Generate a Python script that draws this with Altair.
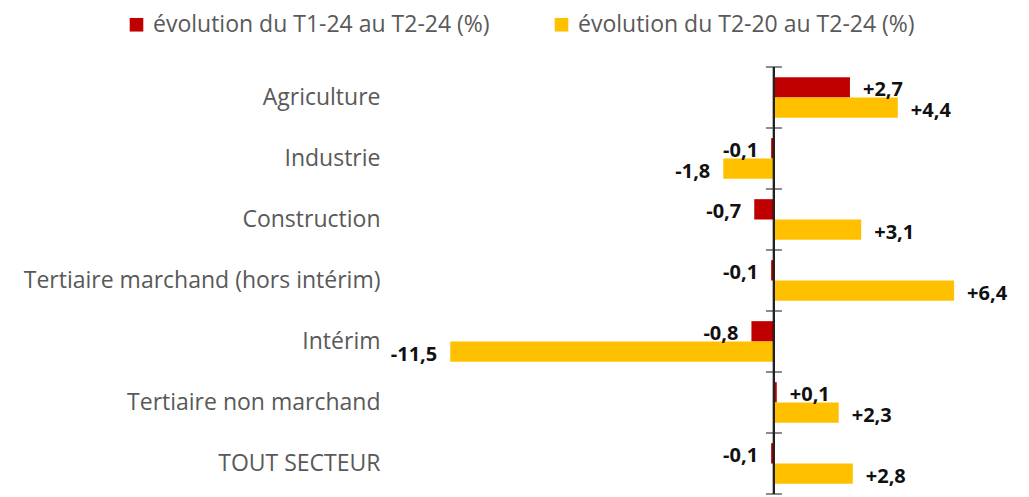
import altair as alt
import pandas as pd

categories = [
    "Agriculture",
    "Industrie",
    "Construction",
    "Tertiaire marchand (hors intérim)",
    "Intérim",
    "Tertiaire non marchand",
    "TOUT SECTEUR",
]
series_names = ["évolution du T1-24 au T2-24 (%)", "évolution du T2-20 au T2-24 (%)"]
evol_t1_24 = [2.7, -0.1, -0.7, -0.1, -0.8, 0.1, -0.1]
evol_t2_20 = [4.4, -1.8, 3.1, 6.4, -11.5, 2.3, 2.8]
colors = ["#C00000", "#FFC000"]

rows = []
for i, c in enumerate(categories):
    for s, vals in zip(series_names, [evol_t1_24, evol_t2_20]):
        v = vals[i]
        rows.append({"cat": c, "serie": s, "value": v,
                     "label": f"{v:+.1f}".replace(".", ",")})
df = pd.DataFrame(rows)
cat_df = pd.DataFrame({"cat": categories})
last_df = pd.DataFrame({"cat": categories[-1:]})

FONT = "Open Sans"
xscale = alt.Scale(domain=[-13, 7], nice=False, zero=False)
yscale = alt.Scale(domain=categories, paddingInner=0, paddingOuter=0)
yoff_scale = alt.Scale(domain=series_names, paddingInner=0, paddingOuter=0.5)

base = alt.Chart(df)

bars = base.mark_bar().encode(
    x=alt.X("value:Q", scale=xscale, axis=None),
    y=alt.Y("cat:N", scale=yscale, sort=categories,
            axis=alt.Axis(title=None, domain=False, ticks=False, labelPadding=28,
                          labelFontSize=23, labelColor="#595959", labelFont=FONT,
                          labelLimit=500)),
    yOffset=alt.YOffset("serie:N", scale=yoff_scale, sort=series_names),
    color=alt.Color("serie:N", scale=alt.Scale(domain=series_names, range=colors),
                    legend=alt.Legend(title=None, orient="none", direction="horizontal",
                                      legendX=-283, legendY=-54, symbolType="square",
                                      symbolSize=185, symbolStrokeWidth=0,
                                      labelFontSize=23, labelColor="#595959",
                                      labelFont=FONT, columnPadding=60, labelOffset=5,
                                      labelLimit=500)),
)

txt_pos = base.transform_filter("datum.value >= 0").mark_text(
    align="left", baseline="middle", dx=13, dy=3, fontSize=20, fontWeight="bold",
    font=FONT, color="#111"
).encode(
    x=alt.X("value:Q", scale=xscale),
    y=alt.Y("cat:N", scale=yscale, sort=categories),
    yOffset=alt.YOffset("serie:N", scale=yoff_scale, sort=series_names),
    text="label:N",
)
txt_neg = base.transform_filter("datum.value < 0").mark_text(
    align="right", baseline="middle", dx=-13, dy=3, fontSize=20, fontWeight="bold",
    font=FONT, color="#111"
).encode(
    x=alt.X("value:Q", scale=xscale),
    y=alt.Y("cat:N", scale=yscale, sort=categories),
    yOffset=alt.YOffset("serie:N", scale=yoff_scale, sort=series_names),
    text="label:N",
)

axis_line = alt.Chart(cat_df).mark_rule(color="#222", strokeWidth=2).encode(
    x=alt.datum(0, scale=xscale)
)
ticks = alt.Chart(cat_df).mark_tick(orient="horizontal", size=16, thickness=1.5,
                                    color="#222").encode(
    x=alt.datum(0, scale=xscale),
    y=alt.Y("cat:N", scale=yscale, sort=categories, bandPosition=0),
)
tick_end = alt.Chart(last_df).mark_tick(orient="horizontal", size=16, thickness=1.5,
                                        color="#222").encode(
    x=alt.datum(0, scale=xscale),
    y=alt.Y("cat:N", scale=yscale, sort=categories, bandPosition=1),
)

chart = alt.layer(bars, txt_pos, txt_neg, axis_line, ticks, tick_end).properties(
    width=563, height=427,
    autosize=alt.AutoSizeParams(type="none"),
    padding={"left": 400, "top": 59, "right": 50, "bottom": 2},
).configure_view(stroke=None)

chart.save("out.html", embed_options={"renderer": "svg", "actions": False})
